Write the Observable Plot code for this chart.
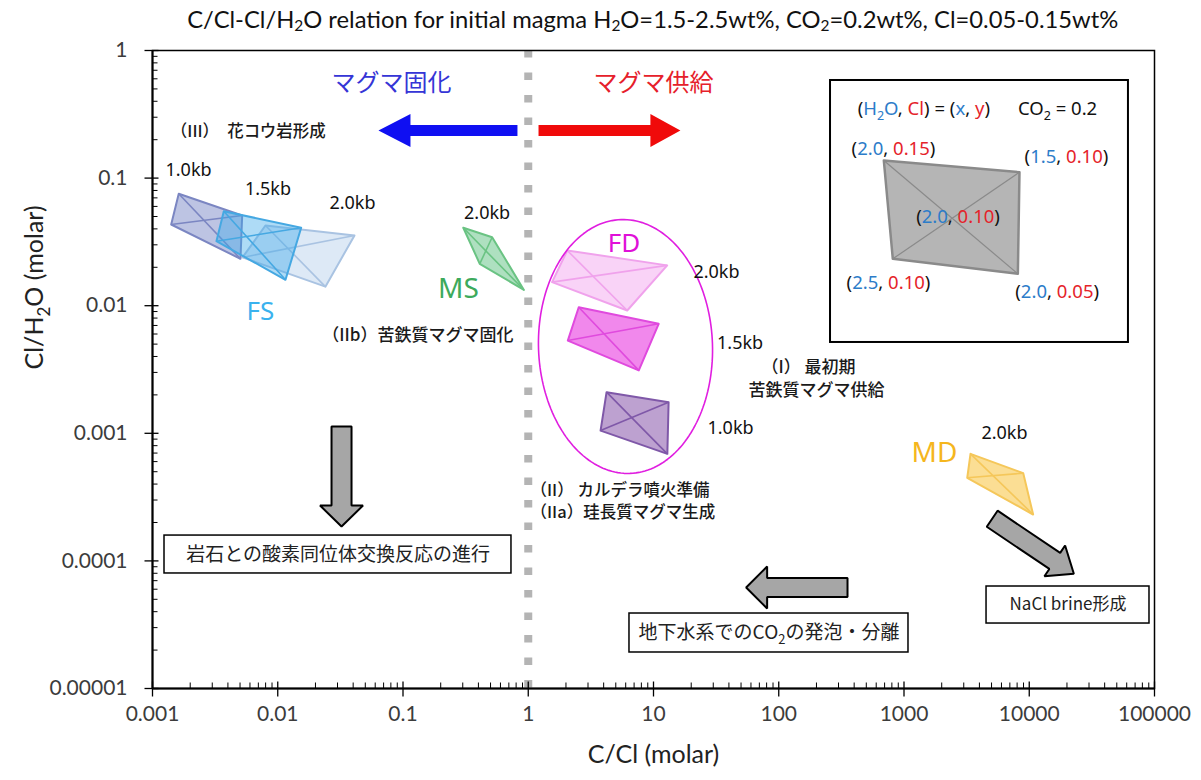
<!DOCTYPE html>
<html>
<head>
<meta charset="utf-8">
<script src="https://cdn.jsdelivr.net/npm/d3@7"></script>
<script src="https://cdn.jsdelivr.net/npm/@observablehq/plot@0.6"></script>
<style>
  body { margin: 0; background: #fff; }
  #title { width: 1201px; height: 38px; box-sizing: border-box; padding: 0 47px 0 152px; text-align: center;
           font-family: Lato, "Liberation Sans", sans-serif; font-size: 23px; line-height: 38px; color: #111; white-space: nowrap; overflow: visible; }
  #title span { display: inline-block; transform-origin: 50% 50%; }
  #title sub { font-size: 65%; vertical-align: -3px; line-height: 0; }
</style>
</head>
<body>
<div id="title"><span id="titleText">C/Cl-Cl/H<sub>2</sub>O relation for initial magma H<sub>2</sub>O=1.5-2.5wt%, CO<sub>2</sub>=0.2wt%, Cl=0.05-0.15wt%</span></div>
<div id="chart"></div>
<script>
// ---------- frame ----------
const W = 1201, H = 742, ML = 152, MR = 47, MT = 12, MB = 92;
const X_DOMAIN = [1e-3, 1e5];
const Y_DOMAIN = [1e-5, 1];

// ---------- axes ----------
const xMajor = [0.001, 0.01, 0.1, 1, 10, 100, 1000, 10000, 100000];
const xMajorLabels = ["0.001", "0.01", "0.1", "1", "10", "100", "1000", "10000", "100000"];
const yMajor = [1, 0.1, 0.01, 0.001, 0.0001, 0.00001];
const yMajorLabels = ["1", "0.1", "0.01", "0.001", "0.0001", "0.00001"];
const minorSteps = [2, 3, 4, 5, 6, 7, 8, 9];

// ---------- fields: (C/Cl, Cl/H2O) corners ----------
// corner order: (H2O, Cl) = (2.0, 0.15), (1.5, 0.10), (2.0, 0.05), (2.5, 0.10)
const FS_20kb = [[0.00798, 0.0425], [0.0410, 0.0355], [0.0240, 0.0141], [0.00523, 0.0239]];
const FS_15kb = [[0.00371, 0.0550], [0.01538, 0.0408], [0.01153, 0.01596], [0.00324, 0.0320]];
const FS_10kb = [[0.00162, 0.0753], [0.00520, 0.0509], [0.00504, 0.0233], [0.00141, 0.0433]];
const MS_20kb = [[0.303, 0.0408], [0.515, 0.0344], [0.923, 0.0133], [0.410, 0.0213]];
const FD_20kb = [[2.05, 0.0271], [12.86, 0.0207], [6.17, 0.00917], [1.55, 0.0153]];
const FD_15kb = [[2.53, 0.00973], [11.0, 0.00721], [7.63, 0.00311], [2.07, 0.00533]];
const FD_10kb = [[4.22, 0.00210], [13.2, 0.00175], [12.9, 0.00069], [3.78, 0.00105]];
const MD_20kb = [[3396, 0.00069], [8954, 0.000487], [10740, 0.000231], [3198, 0.000448]];
const KEY_QUAD = [[690, 0.1374], [8356, 0.1112], [8110, 0.01778], [814, 0.0233]];

// pressure labels
const kbText = ["1.0kb", "1.5kb", "2.0kb", "2.0kb", "2.0kb", "1.5kb", "1.0kb", "2.0kb"];
const kbX = [0.00194, 0.00835, 0.0395, 0.469, 31.8, 49.1, 41.2, 6343];
const kbY = [0.1147, 0.0814, 0.0632, 0.0528, 0.0183, 0.00506, 0.00109, 0.000996];

// group names
const groupText = ["FS", "MS", "FD", "MD"];
const groupX = [0.00728, 0.2773, 5.82, 1750];
const groupY = [0.00901, 0.01356, 0.0306, 0.000695];

// stage notes, left-aligned
const stageLeftText = ["（III）　花コウ岩形成", "（II） カルデラ噴火準備", "（IIa）珪長質マグマ生成"];
const stageLeftX = [0.00140, 1.042, 1.042];
const stageLeftY = [0.229, 0.000358, 0.000238];
// stage notes, right-aligned
const stageRightText = ["（IIb）苦鉄質マグマ固化"];
const stageRightX = [0.762];
const stageRightY = [0.00584];
// stage notes, centred
const stageMidText = ["（I） 最初期", "苦鉄質マグマ供給"];
const stageMidX = [173, 200];
const stageMidY = [0.00328, 0.00217];

// direction headings
const headText = ["マグマ固化", "マグマ供給"];
const headX = [0.0809, 10.0];
const headY = [0.551, 0.551];

// process boxes
const boxText = ["岩石との酸素同位体交換反応の進行", "地下水系でのCO2の発泡・分離", "NaCl brine形成"];
const boxX1 = [0.001247, 6.43, 4560];
const boxX2 = [0.7345, 1086, 91200];
const boxY1 = [0.000158, 3.87e-5, 6.30e-5];
const boxY2 = [0.0000797, 1.915e-5, 3.23e-5];
const boxTextX = [0.0303, 83.6, 20380];
const boxTextY = [0.0001122, 2.72e-5, 4.51e-5];

// key panel
const keyBox = {x1: 259, x2: 61950, y1: 0.582, y2: 0.00515};
const keyText = ["(H2O, Cl) = (x, y)", "CO2 = 0.2", "(2.0, 0.15)", "(1.5, 0.10)", "(2.0, 0.10)", "(2.5, 0.10)", "(2.0, 0.05)"];
const keyX = [1439, 16820, 824, 19820, 2700, 752, 16710];
const keyY = [0.349, 0.349, 0.1698, 0.1459, 0.0491, 0.01493, 0.01269];

// arrows (tail -> tip, in C/Cl, Cl/H2O)
const arrowSolidify = {tail: [0.820, 0.236], tip: [0.0637, 0.236]};
const arrowSupply = {tail: [1.208, 0.236], tip: [16.4, 0.236]};
const arrowExchange = {tail: [0.0323, 0.001130], tip: [0.0323, 0.000186]};
const arrowDegas = {tail: [354, 6.19e-5], tip: [54.9, 6.19e-5]};
const arrowBrine = {tail: [5058, 0.000214], tip: [22700, 7.93e-5]};

// FD envelope centre
const fdEnvelopeCenter = [5.976, 0.004789];

// ---------- styling ----------
const BLUE = "#2c7cc9", RED = "#e5232a", INK = "#111";
const LATIN = "Lato, 'Liberation Sans', sans-serif";
const NOTE = "'Noto Sans', 'Liberation Sans', sans-serif";
const CJK = "'Noto Sans CJK JP', 'Noto Sans', sans-serif";

const fieldStyles = [
  {pts: FS_20kb, fill: "#9ec0e6", fo: 0.35, stroke: "#a9c3e2"},
  {pts: FS_10kb, fill: "#6d7cc2", fo: 0.45, stroke: "#7b86c2"},
  {pts: FS_15kb, fill: "#3fa9ea", fo: 0.42, stroke: "#45a8e2"},
  {pts: MS_20kb, fill: "#4cbb74", fo: 0.45, stroke: "#6ac383"},
  {pts: FD_20kb, fill: "#f08cea", fo: 0.38, stroke: "#f0a2ec"},
  {pts: FD_15kb, fill: "#e838e0", fo: 0.6, stroke: "#e04ade"},
  {pts: FD_10kb, fill: "#8654aa", fo: 0.55, stroke: "#7f58a8"},
  {pts: MD_20kb, fill: "#f8c23c", fo: 0.55, stroke: "#f5c75a"},
  {pts: KEY_QUAD, fill: "#b5b5b5", fo: 1, stroke: "#8a8a8a", sw: 2.5, dw: 1.2}
];
const groupColors = ["#3ab2ee", "#3daa5c", "#e010d8", "#f5b61e"];
const groupSizes = [26, 28, 26, 28];

// ---------- helper scales ----------
const sx = Plot.scale({x: {type: "log", domain: X_DOMAIN, range: [ML, W - MR]}});
const sy = Plot.scale({y: {type: "log", domain: Y_DOMAIN, range: [H - MB, MT]}});
const toPx = ([x, y]) => [sx.apply(x), sy.apply(y)];
const toData = ([px, py]) => [sx.invert(px), sy.invert(py)];

function blockArrow({tail, tip}, shaft, head, headLen) {
  const [x0, y0] = toPx(tail), [x1, y1] = toPx(tip);
  const L = Math.hypot(x1 - x0, y1 - y0);
  const ux = (x1 - x0) / L, uy = (y1 - y0) / L, nx = -uy, ny = ux;
  const bx = x1 - ux * headLen, by = y1 - uy * headLen;
  return [
    [x0 + nx * shaft, y0 + ny * shaft], [bx + nx * shaft, by + ny * shaft], [bx + nx * head, by + ny * head],
    [x1, y1],
    [bx - nx * head, by - ny * head], [bx - nx * shaft, by - ny * shaft], [x0 - nx * shaft, y0 - ny * shaft]
  ].map(toData);
}

function ellipseOutline(center, rx, ry, tiltDeg) {
  const [cx, cy] = toPx(center), a = tiltDeg * Math.PI / 180;
  return d3.range(0, 360, 2).map(deg => {
    const t = deg * Math.PI / 180, ex = rx * Math.cos(t), ey = ry * Math.sin(t);
    return toData([cx + ex * Math.cos(a) - ey * Math.sin(a), cy + ex * Math.sin(a) + ey * Math.cos(a)]);
  });
}

const px = d => d[0], py = d => d[1];
const idx = (arr) => arr.map((_, i) => i);

// tick geometry
const yAxisVal = Y_DOMAIN[0], xAxisVal = X_DOMAIN[0];
const yOff = dp => sy.invert(sy.apply(yAxisVal) - dp);
const xOff = dp => sx.invert(sx.apply(xAxisVal) + dp);
const xMinor = xMajor.slice(0, -1).flatMap(d => minorSteps.map(m => d * m));
const yMinor = yMajor.slice(1).flatMap(d => minorSteps.map(m => d * m));

// ---------- marks ----------
const marks = [];

// key panel frame and process boxes
marks.push(Plot.rect([keyBox], {x1: "x1", x2: "x2", y1: "y1", y2: "y2", fill: "white", stroke: "#000", strokeWidth: 2}));
marks.push(Plot.rect(idx(boxText), {x1: i => boxX1[i], x2: i => boxX2[i], y1: i => boxY1[i], y2: i => boxY2[i],
  fill: "white", stroke: "#000", strokeWidth: 1.5}));

// fields with their two diagonals
for (const f of fieldStyles) {
  marks.push(Plot.line(f.pts, {x: px, y: py, curve: "linear-closed", fill: f.fill, fillOpacity: f.fo,
    stroke: f.stroke, strokeWidth: f.sw ?? 2, strokeLinejoin: "round"}));
  marks.push(Plot.link([[f.pts[0], f.pts[2]], [f.pts[3], f.pts[1]]], {
    x1: d => d[0][0], y1: d => d[0][1], x2: d => d[1][0], y2: d => d[1][1],
    stroke: f.stroke, strokeWidth: f.dw ?? 1.6}));
}

// FD envelope
marks.push(Plot.line(ellipseOutline(fdEnvelopeCenter, 87, 127, -2),
  {x: px, y: py, curve: "linear-closed", stroke: "#e01ee0", strokeWidth: 1.6}));

// C/Cl = 1 divider
marks.push(Plot.ruleX([1], {y1: () => Y_DOMAIN[1], y2: () => Y_DOMAIN[0], stroke: "#b4b4b4", strokeWidth: 8, strokeDasharray: "7.5 15"}));

// trend arrows
marks.push(Plot.line(blockArrow(arrowSolidify, 5.5, 16.5, 32), {x: px, y: py, curve: "linear-closed", fill: "#0f0ff2", stroke: "none"}));
marks.push(Plot.line(blockArrow(arrowSupply, 5.5, 16.5, 30), {x: px, y: py, curve: "linear-closed", fill: "#f00a0a", stroke: "none"}));
for (const [a, shaft, head, len] of [[arrowExchange, 10, 21.5, 21], [arrowDegas, 9.5, 21, 21], [arrowBrine, 9.7, 18.5, 23]]) {
  marks.push(Plot.line(blockArrow(a, shaft, head, len), {x: px, y: py, curve: "linear-closed",
    fill: "#a6a6a6", stroke: "#000", strokeWidth: 2, strokeLinejoin: "miter"}));
}

// labels
marks.push(Plot.text(idx(kbText), {x: i => kbX[i], y: i => kbY[i], text: i => kbText[i],
  fontFamily: NOTE, fontSize: 18, fill: INK}));
marks.push(Plot.text(idx(groupText), {x: i => groupX[i], y: i => groupY[i], text: i => groupText[i],
  fontFamily: NOTE, fontSize: i => groupSizes[i], fill: i => groupColors[i]}));
const stageStyle = {fontFamily: CJK, fontSize: 17, fontWeight: 500, fill: "#1a1a1a"};
marks.push(Plot.text(idx(stageLeftText), {x: i => stageLeftX[i], y: i => stageLeftY[i], text: i => stageLeftText[i],
  textAnchor: "start", ...stageStyle, fontSize: 16.5}));
marks.push(Plot.text(idx(stageRightText), {x: i => stageRightX[i], y: i => stageRightY[i], text: i => stageRightText[i],
  textAnchor: "end", ...stageStyle}));
marks.push(Plot.text(idx(stageMidText), {x: i => stageMidX[i], y: i => stageMidY[i], text: i => stageMidText[i],
  textAnchor: "middle", ...stageStyle}));
marks.push(Plot.text(idx(headText), {x: i => headX[i], y: i => headY[i], text: i => headText[i],
  fontFamily: CJK, fontSize: 24, fill: i => (i === 0 ? "#3535d6" : "#e6202a")}));
marks.push(Plot.text(idx(boxText), {x: i => boxTextX[i], y: i => boxTextY[i], text: i => boxText[i],
  fontFamily: CJK, fontSize: i => (i === 2 ? 17 : 19), fill: "#222"}));
marks.push(Plot.text(idx(keyText), {x: i => keyX[i], y: i => keyY[i], text: i => keyText[i],
  fontFamily: NOTE, fontSize: 18.5, fill: INK}));

// plot frame, axis lines and ticks
marks.push(Plot.frame({stroke: "#000", strokeWidth: 1.5}));
marks.push(Plot.ruleX([xAxisVal], {stroke: "#000", strokeWidth: 2}));
marks.push(Plot.ruleY([yAxisVal], {stroke: "#000", strokeWidth: 2}));
marks.push(Plot.link(xMajor, {x1: d => d, x2: d => d, y1: () => yOff(-8), y2: () => yOff(7), stroke: "#000", strokeWidth: 1.3}));
marks.push(Plot.link(xMinor, {x1: d => d, x2: d => d, y1: () => yAxisVal, y2: () => yOff(6), stroke: "#000", strokeWidth: 1}));
marks.push(Plot.link(yMajor, {y1: d => d, y2: d => d, x1: () => xOff(-8), x2: () => xOff(6), stroke: "#000", strokeWidth: 1.3}));
marks.push(Plot.link(yMinor, {y1: d => d, y2: d => d, x1: () => xAxisVal, x2: () => xOff(5), stroke: "#000", strokeWidth: 1}));

// tick labels and axis titles
marks.push(Plot.text(xMajor, {x: d => d, frameAnchor: "bottom", dy: 32, text: (d, i) => xMajorLabels[i],
  fontFamily: LATIN, fontSize: 21, fill: "#3c3c3c"}));
marks.push(Plot.text(yMajor, {y: d => d, frameAnchor: "left", dx: -25, textAnchor: "end", text: (d, i) => yMajorLabels[i],
  fontFamily: LATIN, fontSize: 21, fill: "#3c3c3c"}));
marks.push(Plot.text(["C/Cl (molar)"], {frameAnchor: "bottom", dy: 74, text: d => d, fontFamily: LATIN, fontSize: 25, fill: "#222"}));
marks.push(Plot.text(["Cl/H2O (molar)"], {frameAnchor: "left", dx: -118, rotate: -90, text: d => d,
  fontFamily: LATIN, fontSize: 25, fill: "#222"}));

const chart = Plot.plot({
  width: W, height: H,
  marginLeft: ML, marginRight: MR, marginTop: MT, marginBottom: MB,
  x: {type: "log", domain: X_DOMAIN, axis: null},
  y: {type: "log", domain: Y_DOMAIN, axis: null},
  style: {background: "white", overflow: "visible"},
  marks
});
document.getElementById("chart").append(chart);

// ---------- coloured / subscripted text runs ----------
const K = INK, G = "#222";
const textRuns = [
  {size: 18.5, runs: [["(", K], ["H", BLUE], ["2", BLUE, 1], ["O", BLUE], [", ", K], ["Cl", RED], [") = (", K], ["x", BLUE], [", ", K], ["y", RED], [")", K]]},
  {size: 18.5, runs: [["CO", K], ["2", K, 1], [" = 0.2", K]]},
  {size: 18.5, runs: [["(", K], ["2.0", BLUE], [", ", K], ["0.15", RED], [")", K]]},
  {size: 18.5, runs: [["(", K], ["1.5", BLUE], [", ", K], ["0.10", RED], [")", K]]},
  {size: 18.5, runs: [["(", K], ["2.0", BLUE], [", ", K], ["0.10", RED], [")", K]]},
  {size: 18.5, runs: [["(", K], ["2.5", BLUE], [", ", K], ["0.10", RED], [")", K]]},
  {size: 18.5, runs: [["(", K], ["2.0", BLUE], [", ", K], ["0.05", RED], [")", K]]},
  {size: 19, runs: [["地下水系での", G], ["CO", G], ["2", G, 1], ["の発泡・分離", G]]},
  {size: 25, runs: [["Cl/H", G], ["2", G, 1], ["O (molar)", G]]}
];
const runsByText = new Map(textRuns.map(r => [r.runs.map(p => p[0]).join(""), r]));

d3.select(chart).selectAll("text").each(function () {
  const r = runsByText.get(this.textContent);
  if (!r) return;
  const t = d3.select(this);
  t.text(null);
  let shift = 0;
  for (const [s, color, sub] of r.runs) {
    const want = sub ? r.size * 0.28 : 0;
    const ts = t.append("tspan").text(s).attr("fill", color);
    if (want !== shift) { ts.attr("dy", want - shift); shift = want; }
    if (sub) ts.attr("font-size", r.size * 0.68);
  }
});

// stretch the heading to span its target width above the plot
const titleSpan = document.getElementById("titleText");
const tw = titleSpan.getBoundingClientRect().width;
if (tw > 0) titleSpan.style.transform = `scaleX(${931 / tw})`;
</script>
</body>
</html>
